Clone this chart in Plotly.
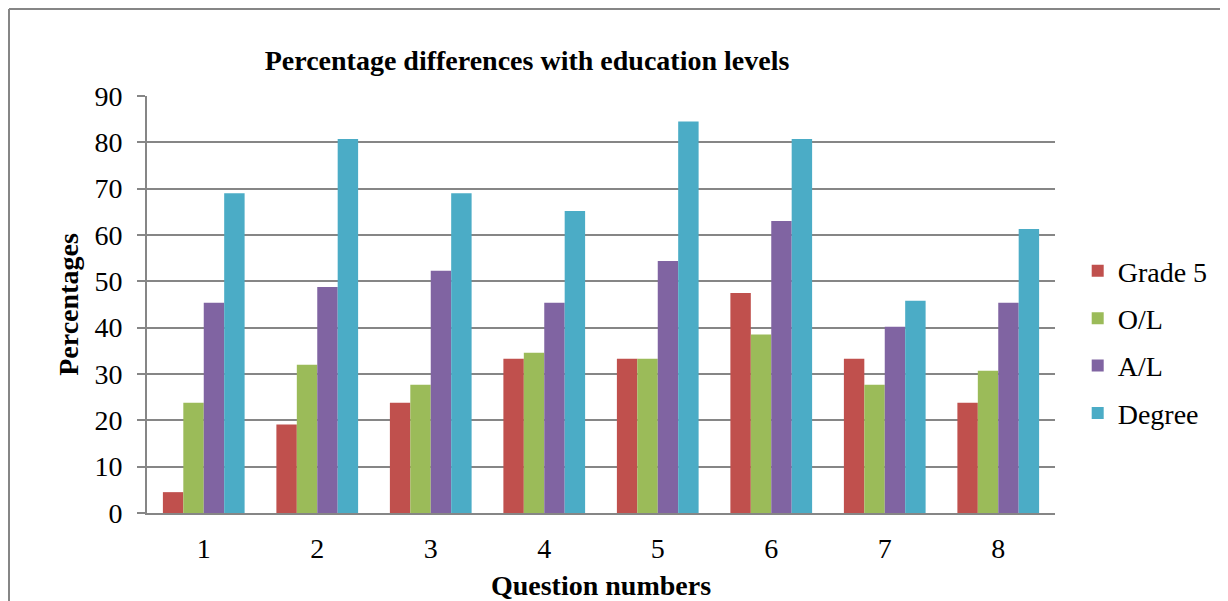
import plotly.graph_objects as go

questions = ["1", "2", "3", "4", "5", "6", "7", "8"]
grade5 = [4.5, 19.1, 23.8, 33.3, 33.3, 47.5, 33.3, 23.8]
ol = [23.8, 32.0, 27.7, 34.6, 33.3, 38.5, 27.7, 30.7]
al = [45.4, 48.8, 52.3, 45.4, 54.4, 63.0, 40.2, 45.4]
degree = [69.0, 80.7, 69.0, 65.2, 84.5, 80.7, 45.8, 61.3]

series = [("Grade 5", grade5, "#C0504D"), ("O/L", ol, "#9BBB59"),
          ("A/L", al, "#8064A2"), ("Degree", degree, "#4BACC6")]

fig = go.Figure()
for name, vals, color in series:
    fig.add_trace(go.Bar(x=questions, y=vals, name=name, marker_color=color,
                         marker_line_width=0, legendgroup=name))

grid = "#868686"
# page body has an 8px offset, so the figure is shrunk by 8px and margins adjusted
W, H = 1220, 593
fig.update_layout(
    width=W, height=H,
    margin=dict(l=139, r=173, t=88, b=88, autoexpand=False),
    paper_bgcolor="white", plot_bgcolor="white",
    barmode="group", bargap=0.28, bargroupgap=0,
    font=dict(family="Liberation Serif", color="black", size=28),
    title=dict(text="<b>Percentage differences with education levels</b>",
               x=519/W, xanchor="center", y=1-52/H, yanchor="middle",
               font=dict(size=28)),
    legend=dict(x=1.025, xanchor="left", y=0.41, yanchor="middle",
                font=dict(size=28), tracegroupgap=8, traceorder="grouped",
                itemwidth=30),
    showlegend=True,
)
fig.update_xaxes(showgrid=False, showline=True, linecolor=grid, linewidth=2,
                 ticks="", tickfont=dict(size=28), ticklabelstandoff=9,
                 title=dict(text="<b>Question numbers</b>", font=dict(size=28), standoff=13))
fig.update_yaxes(range=[0, 90], dtick=10, showgrid=True, gridcolor=grid, gridwidth=2,
                 showline=True, linecolor=grid, linewidth=2, ticks="outside",
                 ticklen=8, tickcolor=grid, tickwidth=2, tickfont=dict(size=28),
                 ticklabelstandoff=9, zeroline=False,
                 title=dict(text="<b>Percentages</b>", font=dict(size=28), standoff=8))

# outer chart border (top and left edges)
fig.add_shape(type="line", xref="paper", yref="paper", x0=-138/908, x1=1.3,
              y0=1+87/417, y1=1+87/417, line=dict(color=grid, width=2))
fig.add_shape(type="line", xref="paper", yref="paper", x0=-138/908, x1=-138/908,
              y0=1+87/417, y1=-0.3, line=dict(color=grid, width=2))

fig.write_html("out.html")
